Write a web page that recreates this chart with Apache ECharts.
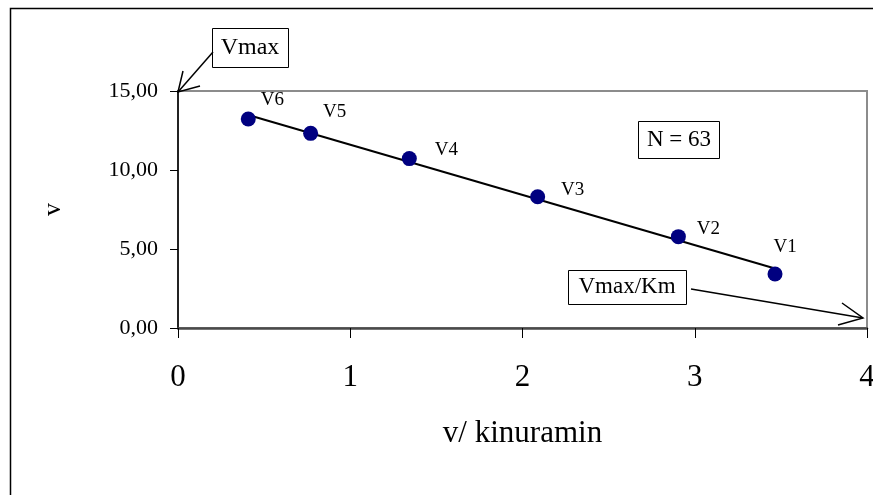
<!DOCTYPE html>
<html>
<head>
<meta charset="utf-8">
<script src="https://cdn.jsdelivr.net/npm/echarts@6/dist/echarts.min.js"></script>
<style>
html,body{margin:0;padding:0;background:#fff;overflow:hidden;}
#chart{width:873px;height:495px;}
</style>
</head>
<body>
<div id="chart"></div>
<script>
// ---- data ----
var pointNames = ['V1', 'V2', 'V3', 'V4', 'V5', 'V6'];
var xValues = [3.466, 2.905, 2.088, 1.343, 0.770, 0.408];
var yValues = [3.42, 5.78, 8.31, 10.72, 12.32, 13.23];
var xTicks = [0, 1, 2, 3, 4];
var yTicks = [0, 5, 10, 15];
var nLabel = 'N = 63';

// label offsets (style only)
var labelOffsets = [[10, -27], [30, -8], [35, -7], [37, -9], [24, -21], [24, -19]];

// least squares trend line through the points
function regression(xs, ys) {
  var n = xs.length, mx = 0, my = 0;
  for (var i = 0; i < n; i++) { mx += xs[i]; my += ys[i]; }
  mx /= n; my /= n;
  var sxy = 0, sxx = 0;
  for (var j = 0; j < n; j++) { sxy += (xs[j] - mx) * (ys[j] - my); sxx += (xs[j] - mx) * (xs[j] - mx); }
  var b = sxy / sxx;
  return { slope: b, intercept: my - b * mx };
}
var reg = regression(xValues, yValues);
var xMin = Math.min.apply(null, xValues), xMax = Math.max.apply(null, xValues);
var trend = [[xMin, reg.intercept + reg.slope * xMin], [xMax, reg.intercept + reg.slope * xMax]];

var points = xValues.map(function (x, i) {
  return {
    name: pointNames[i],
    value: [x, yValues[i]],
    label: { offset: labelOffsets[i] }
  };
});

var serif = 'Liberation Serif';
var chart = echarts.init(document.getElementById('chart'));
chart.setOption({
  backgroundColor: '#fff',
  animation: false,
  grid: { left: 178, right: 6, top: 91, bottom: 167, show: true, borderColor: '#8c8c8c', borderWidth: 2, containLabel: false, outerBoundsMode: 'none' },
  xAxis: {
    type: 'value', min: xTicks[0], max: xTicks[xTicks.length - 1], interval: 1,
    name: 'v/ kinuramin', nameLocation: 'middle', nameGap: 90,
    nameTextStyle: { fontFamily: serif, fontSize: 31, color: '#000' },
    axisLine: { show: true, onZero: false, lineStyle: { color: '#4a4a4a', width: 2.5 } },
    axisTick: { show: true, length: 10, lineStyle: { color: '#000', width: 1 } },
    axisLabel: { fontFamily: serif, fontSize: 31, color: '#000', margin: 34 },
    splitLine: { show: false }
  },
  yAxis: {
    type: 'value', min: yTicks[0], max: yTicks[yTicks.length - 1], interval: 5,
    name: 'v', nameLocation: 'middle', nameGap: 112, nameRotate: 90,
    nameTextStyle: { fontFamily: serif, fontSize: 26, color: '#000' },
    axisLine: { show: true, onZero: false, lineStyle: { color: '#000', width: 1.5 } },
    axisTick: { show: true, length: 8, lineStyle: { color: '#000', width: 1 } },
    axisLabel: { fontFamily: serif, fontSize: 22, color: '#000', margin: 20,
      formatter: function (v) { return v.toFixed(2).replace('.', ','); } },
    splitLine: { show: false }
  },
  series: [
    {
      type: 'line', data: trend, symbol: 'none', silent: true,
      lineStyle: { color: '#000', width: 2 }, z: 3
    },
    {
      type: 'scatter', data: points, symbol: 'circle', symbolSize: 15,
      itemStyle: { color: '#000080', opacity: 1 }, z: 4,
      label: { show: true, formatter: '{b}', position: 'inside', fontFamily: serif, fontSize: 19, color: '#000', opacity: 1 }
    }
  ],
  graphic: [
    { type: 'rect', shape: { x: 10.5, y: 8.5, width: 880, height: 500 }, style: { fill: 'none', stroke: '#000', lineWidth: 1.5 }, z: 0, silent: true },
    // Vmax box and arrow
    { type: 'rect', shape: { x: 212.5, y: 28.5, width: 76, height: 39 }, style: { fill: '#fff', stroke: '#000', lineWidth: 1 }, z: 10 },
    { type: 'text', x: 250, y: 48, style: { text: 'Vmax', font: '24px "Liberation Serif"', fill: '#000', textAlign: 'center', textVerticalAlign: 'middle' }, z: 11 },
    { type: 'polyline', shape: { points: [[213, 52], [178, 92]] }, style: { stroke: '#000', lineWidth: 1.5, fill: 'none' }, z: 10 },
    { type: 'polyline', shape: { points: [[183, 71], [178, 92], [200, 86]] }, style: { stroke: '#000', lineWidth: 1.5, fill: 'none' }, z: 10 },
    // N box
    { type: 'rect', shape: { x: 638.5, y: 121.5, width: 81, height: 37 }, style: { fill: '#fff', stroke: '#000', lineWidth: 1 }, z: 10 },
    { type: 'text', x: 679, y: 140, style: { text: nLabel, font: '23px "Liberation Serif"', fill: '#000', textAlign: 'center', textVerticalAlign: 'middle' }, z: 11 },
    // Vmax/Km box and arrow
    { type: 'rect', shape: { x: 568.5, y: 270.5, width: 118, height: 34 }, style: { fill: '#fff', stroke: '#000', lineWidth: 1 }, z: 10 },
    { type: 'text', x: 627, y: 287, style: { text: 'Vmax/Km', font: '23px "Liberation Serif"', fill: '#000', textAlign: 'center', textVerticalAlign: 'middle' }, z: 11 },
    { type: 'polyline', shape: { points: [[691, 289], [863, 318]] }, style: { stroke: '#000', lineWidth: 1.5, fill: 'none' }, z: 10 },
    { type: 'polyline', shape: { points: [[842, 303], [863, 318], [838, 325]] }, style: { stroke: '#000', lineWidth: 1.5, fill: 'none' }, z: 10 }
  ]
});
</script>
</body>
</html>
